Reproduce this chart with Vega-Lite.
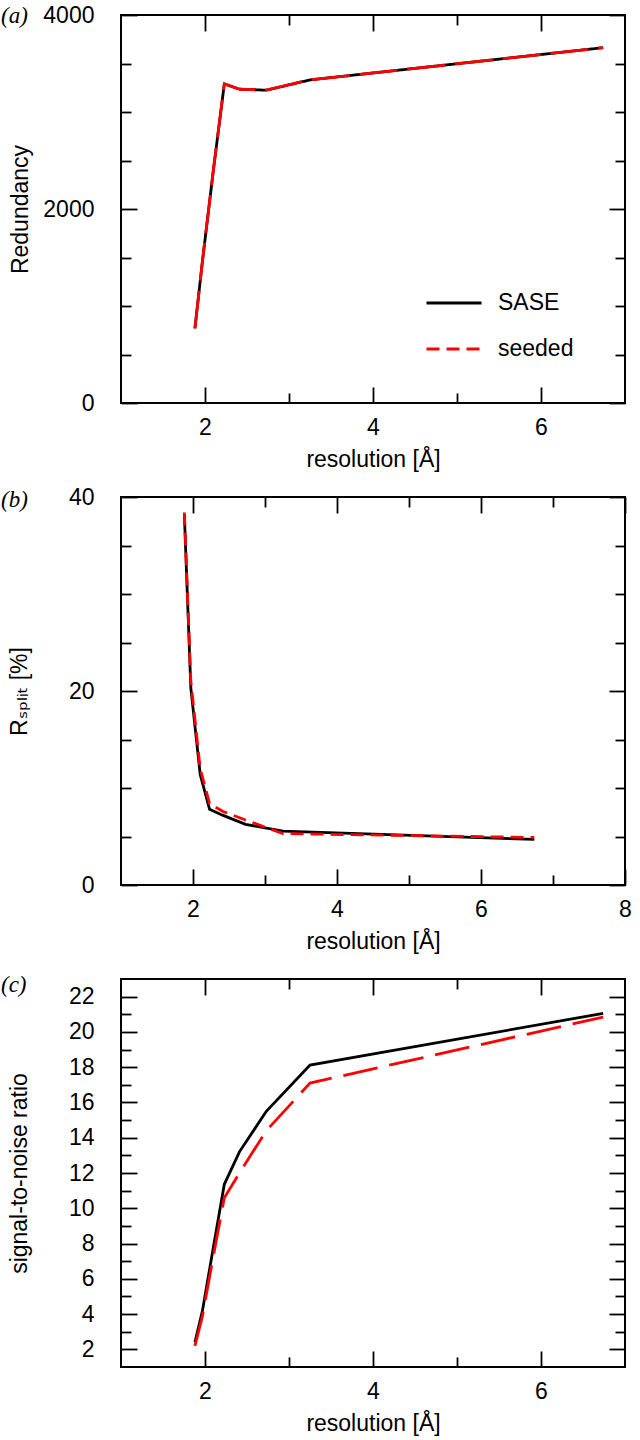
{
  "$schema": "https://vega.github.io/schema/vega-lite/v6.json",
  "padding": {"left": 0, "top": 3, "right": 0, "bottom": 0},
  "background": "white",
  "datasets": {
    "a": [
      {"res": 1.88, "value": 770, "series": "SASE"},
      {"res": 1.97, "value": 1466, "series": "SASE"},
      {"res": 2.10, "value": 2403, "series": "SASE"},
      {"res": 2.23, "value": 3290, "series": "SASE"},
      {"res": 2.41, "value": 3235, "series": "SASE"},
      {"res": 2.73, "value": 3225, "series": "SASE"},
      {"res": 3.25, "value": 3331, "series": "SASE"},
      {"res": 6.74, "value": 3663, "series": "SASE"},
      {"res": 1.88, "value": 770, "series": "seeded"},
      {"res": 1.97, "value": 1466, "series": "seeded"},
      {"res": 2.10, "value": 2403, "series": "seeded"},
      {"res": 2.23, "value": 3290, "series": "seeded"},
      {"res": 2.41, "value": 3235, "series": "seeded"},
      {"res": 2.73, "value": 3225, "series": "seeded"},
      {"res": 3.25, "value": 3331, "series": "seeded"},
      {"res": 6.74, "value": 3663, "series": "seeded"}
    ],
    "b": [
      {"res": 1.88, "value": 38.2, "series": "SASE"},
      {"res": 1.97, "value": 20.3, "series": "SASE"},
      {"res": 2.10, "value": 11.4, "series": "SASE"},
      {"res": 2.23, "value": 7.8, "series": "SASE"},
      {"res": 2.41, "value": 7.2, "series": "SASE"},
      {"res": 2.73, "value": 6.25, "series": "SASE"},
      {"res": 3.25, "value": 5.56, "series": "SASE"},
      {"res": 6.74, "value": 4.7, "series": "SASE"},
      {"res": 1.88, "value": 38.4, "series": "seeded"},
      {"res": 1.97, "value": 21.0, "series": "seeded"},
      {"res": 2.10, "value": 12.0, "series": "seeded"},
      {"res": 2.23, "value": 8.4, "series": "seeded"},
      {"res": 2.41, "value": 7.6, "series": "seeded"},
      {"res": 2.73, "value": 6.7, "series": "seeded"},
      {"res": 3.25, "value": 5.3, "series": "seeded"},
      {"res": 6.74, "value": 4.9, "series": "seeded"}
    ],
    "c": [
      {"res": 1.88, "value": 2.4, "series": "SASE"},
      {"res": 1.97, "value": 4.2, "series": "SASE"},
      {"res": 2.10, "value": 7.8, "series": "SASE"},
      {"res": 2.23, "value": 11.36, "series": "SASE"},
      {"res": 2.41, "value": 13.2, "series": "SASE"},
      {"res": 2.73, "value": 15.5, "series": "SASE"},
      {"res": 3.25, "value": 18.12, "series": "SASE"},
      {"res": 6.74, "value": 21.05, "series": "SASE"},
      {"res": 1.88, "value": 2.2, "series": "seeded"},
      {"res": 1.97, "value": 3.9, "series": "seeded"},
      {"res": 2.10, "value": 7.3, "series": "seeded"},
      {"res": 2.23, "value": 10.6, "series": "seeded"},
      {"res": 2.41, "value": 12.0, "series": "seeded"},
      {"res": 2.73, "value": 14.4, "series": "seeded"},
      {"res": 3.25, "value": 17.1, "series": "seeded"},
      {"res": 6.74, "value": 20.84, "series": "seeded"}
    ]
  },
  "vconcat": [
    {
      "width": 504, "height": 388,
      "title": {"text": "(a)", "anchor": "start", "frame": "group", "orient": "top", "offset": 0, "dx": -120, "dy": 34.5, "baseline": "middle", "font": "Liberation Serif", "fontStyle": "italic", "fontSize": 23, "fontWeight": "normal", "color": "black"},
      "data": {"name": "a"},
      "layer": [
        {
          "transform": [{"filter": "datum.series === 'SASE'"}],
          "mark": {"type": "line", "strokeWidth": 2.8},
          "encoding": {
            "x": {"field": "res", "type": "quantitative", "scale": {"domain": [1, 7], "nice": false, "zero": false},
              "axis": {"orient": "bottom", "values": [2, 3, 4, 5, 6], "labelExpr": "datum.value % 2 === 0 ? datum.label : ''", "tickSize": {"condition": {"test": "datum.value % 2 === 0", "value": -16}, "value": -10}, "labelPadding": 29.5, "title": "resolution [Å]", "titleY": 63, "titleBaseline": "alphabetic"}},
            "y": {"field": "value", "type": "quantitative", "scale": {"domain": [0, 4000], "nice": false, "zero": false},
              "axis": {"orient": "left", "values": [0, 500, 1000, 1500, 2000, 2500, 3000, 3500, 4000], "labelExpr": "datum.value % 2000 === 0 ? datum.value : ''", "tickSize": {"condition": {"test": "datum.value % 2000 === 0", "value": -16}, "value": -10}, "labelPadding": 43, "title": "Redundancy", "titleX": -101, "titleY": 194, "titleAngle": -90, "titleAlign": "center", "titleBaseline": "middle"}},
            "color": {"field": "series", "type": "nominal", "scale": {"domain": ["SASE", "seeded"], "range": ["#000000", "#ff0000"]},
              "legend": {"orient": "none", "legendX": 304, "legendY": 265, "title": null, "symbolType": "stroke", "symbolSize": 3025, "symbolStrokeWidth": 3, "labelFontSize": 23, "labelFont": "Liberation Sans", "labelColor": "black", "labelOffset": 15, "rowPadding": 0, "clipHeight": 46, "padding": 0}},
            "strokeDash": {"field": "series", "type": "nominal", "scale": {"domain": ["SASE", "seeded"], "range": [[1, 0], [13, 7]]},
              "legend": {"orient": "none", "legendX": 304, "legendY": 265, "title": null, "symbolType": "stroke", "symbolSize": 3025, "symbolStrokeWidth": 3, "labelFontSize": 23, "labelFont": "Liberation Sans", "labelColor": "black", "labelOffset": 15, "rowPadding": 0, "clipHeight": 46, "padding": 0}}
          }
        },
        {
          "transform": [{"filter": "datum.series === 'seeded'"}],
          "mark": {"type": "line", "strokeWidth": 2.8, "strokeDash": [38, 10], "color": "#ff0000"},
          "encoding": {
            "x": {"field": "res", "type": "quantitative", "scale": {"domain": [1, 7], "nice": false, "zero": false},
              "axis": {"orient": "top", "values": [2, 3, 4, 5, 6], "labels": false, "tickSize": {"condition": {"test": "datum.value % 2 === 0", "value": -16}, "value": -10}, "title": null}},
            "y": {"field": "value", "type": "quantitative", "scale": {"domain": [0, 4000], "nice": false, "zero": false},
              "axis": {"orient": "right", "values": [0, 500, 1000, 1500, 2000, 2500, 3000, 3500, 4000], "labels": false, "tickSize": {"condition": {"test": "datum.value % 2000 === 0", "value": -16}, "value": -10}, "title": null}}
          }
        }
      ],
      "resolve": {"axis": {"x": "independent", "y": "independent"}}
    },
    {
      "spacing": 19,
      "vconcat": [
        {
          "width": 504, "height": 388,
          "title": {"text": "(b)", "anchor": "start", "frame": "group", "orient": "top", "offset": 0, "dx": -120, "dy": 37, "baseline": "middle", "font": "Liberation Serif", "fontStyle": "italic", "fontSize": 23, "fontWeight": "normal", "color": "black"},
          "data": {"name": "b"},
          "layer": [
            {
              "transform": [{"filter": "datum.series === 'SASE'"}],
              "mark": {"type": "line", "strokeWidth": 2.8, "color": "#000000"},
              "encoding": {
                "x": {"field": "res", "type": "quantitative", "scale": {"domain": [1, 8], "nice": false, "zero": false},
                  "axis": {"orient": "bottom", "values": [2, 3, 4, 5, 6, 7, 8], "labelExpr": "datum.value % 2 === 0 ? datum.label : ''", "tickSize": {"condition": {"test": "datum.value % 2 === 0", "value": -16}, "value": -10}, "labelPadding": 29.5, "title": "resolution [Å]", "titleY": 63, "titleBaseline": "alphabetic"}},
                "y": {"field": "value", "type": "quantitative", "scale": {"domain": [0, 40], "nice": false, "zero": false},
                  "axis": {"orient": "left", "values": [0, 5, 10, 15, 20, 25, 30, 35, 40], "labelExpr": "datum.value % 20 === 0 ? datum.label : ''", "tickSize": {"condition": {"test": "datum.value % 20 === 0", "value": -16}, "value": -10}, "labelPadding": 43, "title": "Rₛₚₗᵢₜ [%]", "titleFont": "Liberation Sans, DejaVu Sans", "titleX": -102, "titleY": 194, "titleAngle": -90, "titleAlign": "center", "titleBaseline": "middle"}}
              }
            },
            {
              "transform": [{"filter": "datum.series === 'seeded'"}],
              "mark": {"type": "line", "strokeWidth": 2.8, "color": "#ff0000", "strokeDash": [13, 7]},
              "encoding": {
                "x": {"field": "res", "type": "quantitative", "scale": {"domain": [1, 8], "nice": false, "zero": false},
                  "axis": {"orient": "top", "values": [2, 3, 4, 5, 6, 7, 8], "labels": false, "tickSize": {"condition": {"test": "datum.value % 2 === 0", "value": -16}, "value": -10}, "title": null}},
                "y": {"field": "value", "type": "quantitative", "scale": {"domain": [0, 40], "nice": false, "zero": false},
                  "axis": {"orient": "right", "values": [0, 5, 10, 15, 20, 25, 30, 35, 40], "labels": false, "tickSize": {"condition": {"test": "datum.value % 20 === 0", "value": -16}, "value": -10}, "title": null}}
              }
            }
          ],
          "resolve": {"axis": {"x": "independent", "y": "independent"}}
        },
        {
          "width": 504, "height": 388,
          "title": {"text": "(c)", "anchor": "start", "frame": "group", "orient": "top", "offset": 0, "dx": -120, "dy": 30, "baseline": "middle", "font": "Liberation Serif", "fontStyle": "italic", "fontSize": 23, "fontWeight": "normal", "color": "black"},
          "data": {"name": "c"},
          "layer": [
            {
              "transform": [{"filter": "datum.series === 'SASE'"}],
              "mark": {"type": "line", "strokeWidth": 2.8, "color": "#000000"},
              "encoding": {
                "x": {"field": "res", "type": "quantitative", "scale": {"domain": [1, 7], "nice": false, "zero": false},
                  "axis": {"orient": "bottom", "values": [2, 3, 4, 5, 6], "labelExpr": "datum.value % 2 === 0 ? datum.label : ''", "tickSize": {"condition": {"test": "datum.value % 2 === 0", "value": -16}, "value": -10}, "labelPadding": 29.5, "title": "resolution [Å]", "titleY": 63, "titleBaseline": "alphabetic"}},
                "y": {"field": "value", "type": "quantitative", "scale": {"domain": [1, 23], "nice": false, "zero": false},
                  "axis": {"orient": "left", "values": [2, 3, 4, 5, 6, 7, 8, 9, 10, 11, 12, 13, 14, 15, 16, 17, 18, 19, 20, 21, 22], "labelExpr": "datum.value % 2 === 0 ? datum.label : ''", "tickSize": {"condition": {"test": "datum.value % 2 === 0", "value": -16}, "value": -10}, "labelPadding": 43, "title": "signal-to-noise ratio", "titleX": -102, "titleY": 194, "titleAngle": -90, "titleAlign": "center", "titleBaseline": "middle"}}
              }
            },
            {
              "transform": [{"filter": "datum.series === 'seeded'"}],
              "mark": {"type": "line", "strokeWidth": 2.8, "color": "#ff0000", "strokeDash": [35, 12]},
              "encoding": {
                "x": {"field": "res", "type": "quantitative", "scale": {"domain": [1, 7], "nice": false, "zero": false},
                  "axis": {"orient": "top", "values": [2, 3, 4, 5, 6], "labels": false, "tickSize": {"condition": {"test": "datum.value % 2 === 0", "value": -16}, "value": -10}, "title": null}},
                "y": {"field": "value", "type": "quantitative", "scale": {"domain": [1, 23], "nice": false, "zero": false},
                  "axis": {"orient": "right", "values": [2, 3, 4, 5, 6, 7, 8, 9, 10, 11, 12, 13, 14, 15, 16, 17, 18, 19, 20, 21, 22], "labels": false, "tickSize": {"condition": {"test": "datum.value % 2 === 0", "value": -16}, "value": -10}, "title": null}}
              }
            }
          ],
          "resolve": {"axis": {"x": "independent", "y": "independent"}}
        }
      ]
    }
  ],
  "spacing": 13,
  "resolve": {"scale": {"color": "independent", "strokeDash": "independent"}, "legend": {"color": "independent", "strokeDash": "independent"}},
  "config": {
    "view": {"stroke": "black", "strokeWidth": 2},
    "axis": {"domain": false, "grid": false, "minExtent": 0, "labelFont": "Liberation Sans", "labelFontSize": 23, "labelColor": "black", "tickColor": "black", "tickWidth": 1.8, "labelFlush": false, "labelOverlap": false, "titleFont": "Liberation Sans", "titleFontSize": 23, "titleFontWeight": "normal", "titleColor": "black"}
  }
}
